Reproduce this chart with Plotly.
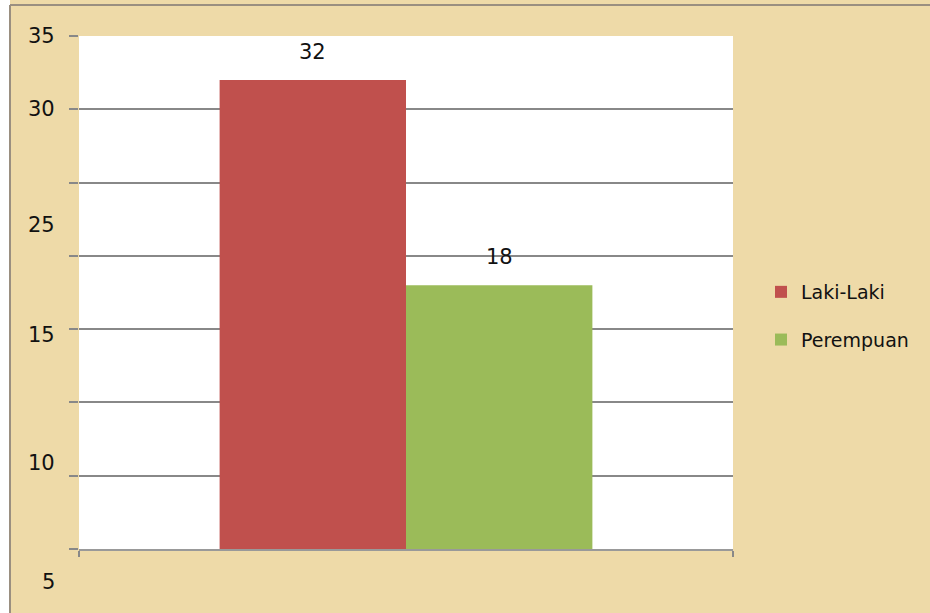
import plotly.graph_objects as go

categories = [""]
series_names = ["Laki-Laki", "Perempuan"]
series_values = [[32], [18]]
series_colors = ["#c0504d", "#9bbb59"]
grid_values = [0, 5, 10, 15, 20, 25, 30, 35]
tick_labels = ["35", "30", "25", "15", "10", "5"]
tick_label_pos = [35, 30, 22.1, 14.6, 5.9, -2.25]

W, H = 930, 613
ml, mr, mt, mb = 79, 197, 36, 64
pw = W - ml - mr
ph = H - mt - mb
ymax = 35.0
FONT = "DejaVu Sans"
bargap = 0.43
bar_px = pw * (1 - bargap) / len(series_names)

fig = go.Figure()
annotations = []
for i, (name, vals) in enumerate(zip(series_names, series_values)):
    fig.add_trace(go.Bar(
        x=categories, y=vals, name=name,
        marker=dict(color=series_colors[i], line=dict(width=0)),
        legendgroup=name, hoverinfo="name+y",
    ))
    offset = (i - (len(series_names) - 1) / 2) * bar_px
    for c, v in zip(categories, vals):
        annotations.append(dict(
            x=c, xref="x", y=v, yref="y", xshift=offset, yshift=28,
            text=str(v), showarrow=False, xanchor="center", yanchor="middle",
            font=dict(size=21, color="#111111", family=FONT),
        ))

for t, p in zip(tick_labels, tick_label_pos):
    annotations.append(dict(
        x=(57 - ml) / pw, xref="paper", y=p / ymax, yref="paper",
        text=t, showarrow=False, xanchor="right", yanchor="middle",
        font=dict(size=21, color="#111111", family=FONT),
    ))

shapes = [
    dict(type="line", xref="paper", yref="paper",
         x0=(5 - ml) / pw, x1=(5 - ml) / pw, y0=-mb / ph, y1=1 + mt / ph,
         line=dict(color="white", width=10), layer="above"),
    dict(type="line", xref="paper", yref="paper",
         x0=(10 - ml) / pw, x1=(10 - ml) / pw, y0=-mb / ph, y1=1 + (mt - 5) / ph,
         line=dict(color="#9a8f80", width=2)),
    dict(type="line", xref="paper", yref="paper",
         x0=(10 - ml) / pw, x1=1 + mr / pw, y0=1 + (mt - 5) / ph, y1=1 + (mt - 5) / ph,
         line=dict(color="#9a8f80", width=2)),
]

fig.update_layout(
    width=W, height=H,
    margin=dict(l=ml, r=mr, t=mt, b=mb, pad=0),
    paper_bgcolor="#eedaa8",
    plot_bgcolor="white",
    font=dict(family=FONT, color="#111111"),
    barmode="group",
    bargap=bargap,
    bargroupgap=0,
    showlegend=True,
    legend=dict(
        x=(761 - ml) / pw, xanchor="left", y=(H - mb - 316) / ph, yanchor="middle",
        xref="paper", yref="paper",
        bgcolor="rgba(0,0,0,0)", font=dict(size=19, color="#111111", family=FONT),
        tracegroupgap=20, itemwidth=30,
    ),
    xaxis=dict(
        type="category", range=[-0.5, 0.5],
        tickmode="array", tickvals=[-0.5, 0.5], ticktext=["", ""],
        ticks="outside", ticklen=6, tickcolor="#888888", tickwidth=1.5,
        showline=True, linecolor="#999999", linewidth=1.5,
        showgrid=False, zeroline=False, fixedrange=True,
    ),
    yaxis=dict(
        range=[0, ymax], tickmode="array", tickvals=grid_values,
        showticklabels=False, ticks="outside", ticklen=9,
        tickcolor="#888888", tickwidth=1.5,
        showgrid=True, gridcolor="#888888", gridwidth=1.5,
        zeroline=False, showline=False, fixedrange=True,
    ),
    annotations=annotations,
    shapes=shapes,
)

fig.write_html(
    "out.html",
    config={"displayModeBar": False},
    post_script="document.body.style.margin='0';document.body.style.overflow='hidden';",
)
